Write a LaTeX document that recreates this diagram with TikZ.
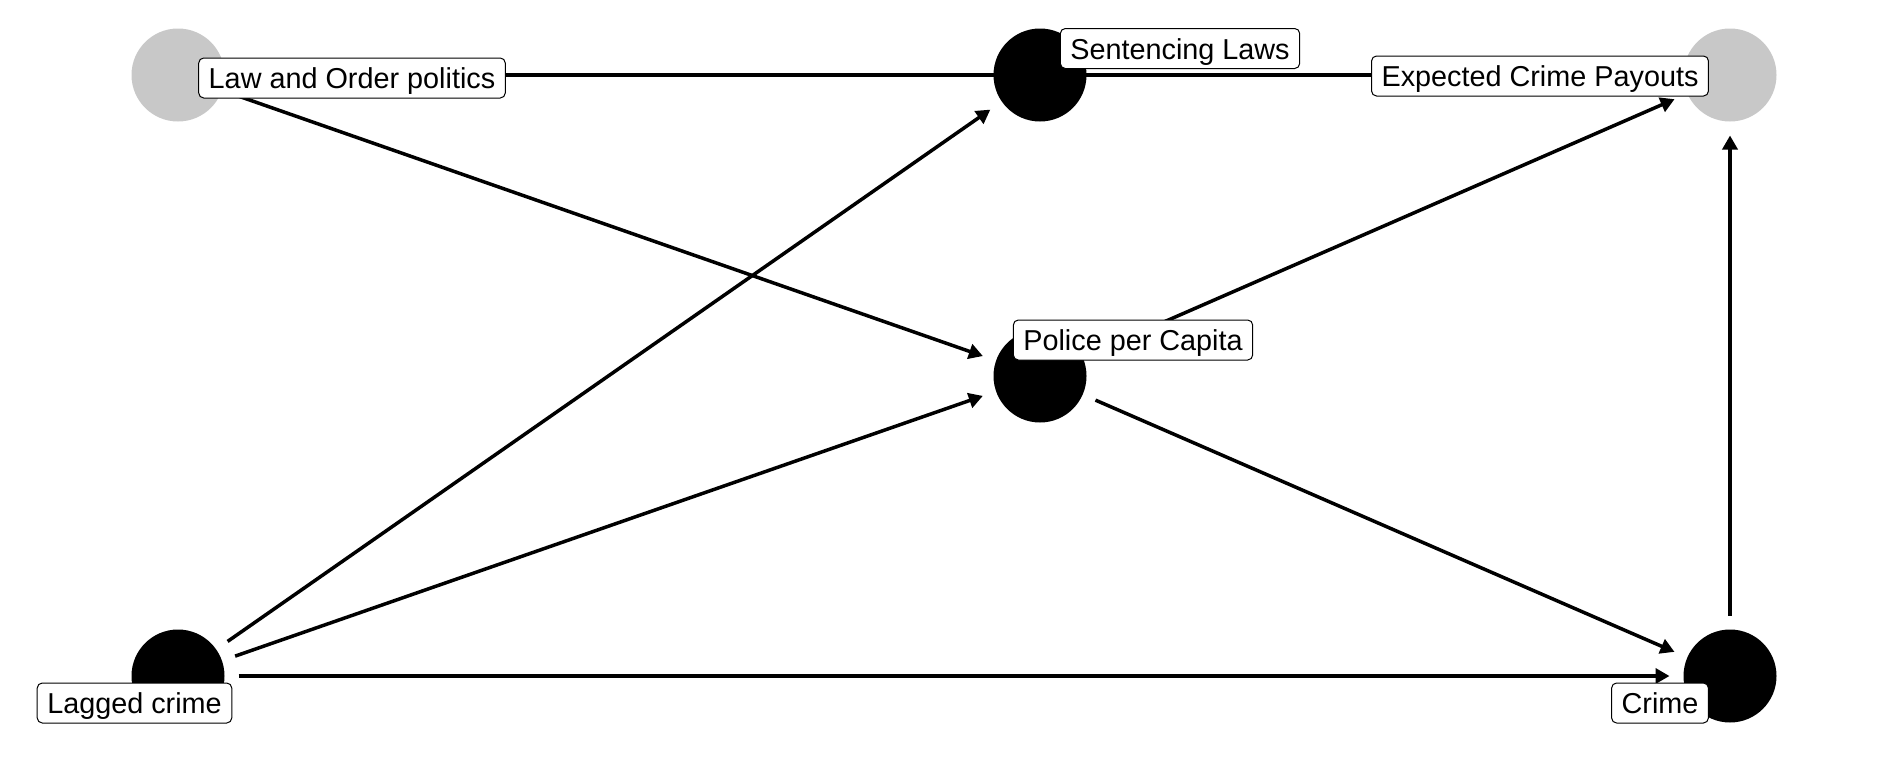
\documentclass[tikz,border=0pt]{standalone}
\usepackage{fontspec}
\setmainfont{Liberation Sans}
\usepackage{xcolor}
\usetikzlibrary{arrows.meta, positioning, backgrounds}
\definecolor{latentgray}{RGB}{200,200,200}

\begin{document}
\begin{tikzpicture}[
    x=0.5pt, y=-0.5pt,
    >={Triangle[length=7pt, width=7.5pt]},
    font=\fontsize{14.4}{16}\selectfont,
    observed/.style={circle, fill=black, minimum size=46.5pt, inner sep=0pt, outer sep=7pt},
    latent/.style={observed, fill=latentgray},
    tag/.style={draw, fill=white, rounded corners=2.5pt, line width=0.5pt, inner xsep=5pt, inner ysep=0pt, minimum height=20pt, text height=12.5pt, text depth=2pt},
    edge/.style={line width=1.75pt}
  ]
  \useasboundingbox (0,0) rectangle (1900,760);

  % variables
  \node (lop) [latent] at (178,75) {};
  \node (sl) [observed] at (1040,75) {};
  \node (ecp) [latent] at (1730,75) {};
  \node (ppc) [observed] at (1040,376) {};
  \node (lagged) [observed] at (178,676) {};
  \node (crime) [observed] at (1730,676) {};

  % undirected links
  \begin{scope}[on background layer]
    \draw[edge] (lop.center) -- (sl.center);
    \draw[edge] (sl.center) -- (ecp.center);
  \end{scope}

  % arrows
  \draw[edge,->] (lop) -- (ppc);
  \draw[edge,->] (lagged) -- (sl);
  \draw[edge,->] (lagged) -- (ppc);
  \draw[edge,->] (lagged) -- (crime);
  \draw[edge,->] (ppc) -- (ecp);
  \draw[edge,->] (ppc) -- (crime);
  \draw[edge,->] (crime) -- (ecp);

  % labels
  \node (loplabel) [tag] at (352,78) {Law and Order politics};
  \node (sllabel) [tag] at (1180,48.5) {Sentencing Laws};
  \node (ecplabel) [tag] at (1540,76) {Expected Crime Payouts};
  \node (ppclabel) [tag] at (1133,340) {Police per Capita};
  \node (laggedlabel) [tag] at (134.5,703) {Lagged crime};
  \node (crimelabel) [tag] at (1660,703) {Crime};
\end{tikzpicture}
\end{document}
